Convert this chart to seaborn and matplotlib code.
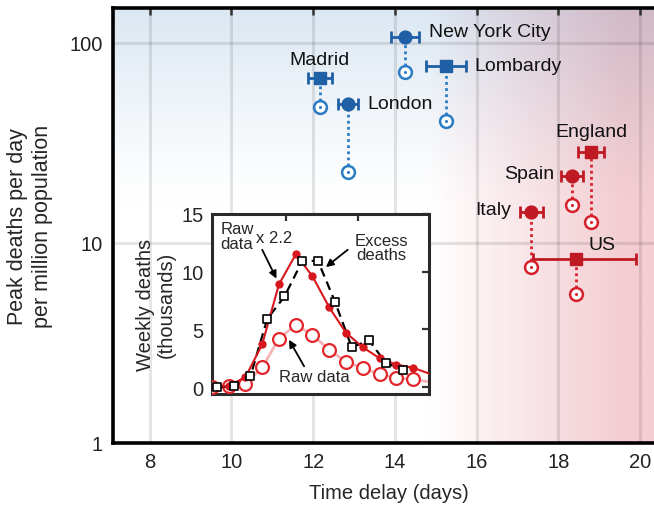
import numpy as np
import pandas as pd
import seaborn as sns
import matplotlib.pyplot as plt

sns.set_style("white")
plt.rcParams['font.family'] = ['Liberation Sans', 'DejaVu Sans']

# main panel: peak deaths vs time delay
places = ["Madrid", "London", "New York City", "Lombardy", "England", "Spain", "Italy", "US"]
group = ["blue", "blue", "blue", "blue", "red", "red", "red", "red"]
delay = [12.17, 12.85, 14.24, 15.24, 18.80, 18.34, 17.34, 18.44]
delay_lo = [0.29, 0.24, 0.34, 0.49, 0.32, 0.27, 0.27, 1.07]
delay_hi = [0.29, 0.24, 0.34, 0.49, 0.32, 0.27, 0.27, 1.46]
peak = [66.5, 49.5, 107.0, 76.7, 28.5, 21.6, 14.3, 8.3]
peak_raw = [47.9, 22.6, 71.6, 40.7, 12.7, 15.5, 7.6, 5.56]
shape = ["s", "o", "o", "s", "s", "o", "o", "s"]

# where the place names sit
label_x = [12.15, 13.32, 14.83, 15.95, 18.80, 17.90, 16.85, 18.73]
label_y = [83.0, 49.5, 113.5, 76.7, 35.9, 22.1, 14.6, 9.8]
label_ha = ["center", "left", "left", "left", "center", "right", "right", "left"]

# inset: weekly deaths (thousands)
weeks = [0, 1, 2, 3, 4, 5, 6, 7, 8, 9, 10, 11, 12, 13]
raw = [0.0, 0.05, 0.3, 1.7, 4.2, 5.4, 4.5, 3.25, 2.15, 1.67, 1.1, 0.8, 0.66, 0.45]
raw_x22 = [0.0, 0.1, 0.86, 3.7, 8.9, 11.5, 9.6, 6.9, 4.7, 3.45, 2.5, 1.95, 1.67, 1.15]
excess_weeks = [0.3, 1.3, 2.3, 3.3, 4.33, 5.38, 6.32, 7.34, 8.34, 9.37, 10.37, 11.37]
excess = [0.0, 0.05, 0.95, 5.9, 7.85, 10.9, 10.95, 7.4, 3.45, 4.05, 2.1, 1.5]

df = pd.DataFrame({"place": places, "group": group, "delay": delay,
                   "peak": peak, "peak_raw": peak_raw})
fill_col = {"blue": "#1f5fa6", "red": "#bf1a23"}
open_col = {"blue": "#2b7cc2", "red": "#d6212b"}

fig = plt.figure(figsize=(6.54, 5.1), dpi=100)
pos = [0.1725, 0.130, 0.844, 0.853]

# background gradient (blue from top, pink from right)
bg = fig.add_axes(pos, zorder=0)
bg.axis('off')
yf = np.linspace(0, 1, 400)[:, None]
xf = np.linspace(0, 1, 400)[None, :]
ylog = yf * np.log10(150)
xd = 7.1 + xf * 13.5
b = np.clip((ylog - np.log10(16)) / (np.log10(150) - np.log10(16)), 0, 1) ** 1.2
r = np.clip((xd - 14.8) / (19.6 - 14.8), 0, 1)
blue = np.array([219, 231, 242]) / 255
pink = np.array([243, 205, 210]) / 255
img = (1 - b[..., None] * (1 - blue)) * (1 - r[..., None] * (1 - pink))
bg.imshow(img, extent=[0, 1, 0, 1], origin='lower', aspect='auto')
bg.set_xlim(0, 1)
bg.set_ylim(0, 1)

ax = fig.add_axes(pos, zorder=1)
ax.set_facecolor('none')
ax.set_yscale('log')

for g in ["blue", "red"]:
    sub = df[df.group == g]
    ax.vlines(sub.delay, sub.peak_raw, sub.peak, colors=open_col[g],
              linestyles=(0, (1, 1.2)), lw=2, zorder=2)
    lo = [delay_lo[i] for i in sub.index]
    hi = [delay_hi[i] for i in sub.index]
    ax.errorbar(sub.delay, sub.peak, xerr=[lo, hi], fmt='none',
                ecolor=fill_col[g], elinewidth=2, capsize=4, capthick=2, zorder=3)
    sns.scatterplot(data=sub, x="delay", y="peak_raw", ax=ax, s=85,
                    facecolor="white", edgecolor=open_col[g], linewidth=1.8, zorder=4)
    sns.scatterplot(data=sub, x="delay", y="peak_raw", ax=ax, s=5,
                    color=open_col[g], linewidth=0, zorder=5)
    for i in sub.index:
        ax.scatter(delay[i], peak[i], s=85, marker=shape[i], color=fill_col[g],
                   edgecolor=fill_col[g], zorder=6)

for i, name in enumerate(places):
    ax.text(label_x[i], label_y[i], name, ha=label_ha[i], va="center",
            fontsize=14, color="#111111", zorder=7)

ax.set_xlim(7.1, 20.6)
ax.set_ylim(1, 150)
ax.set_xticks([8, 10, 12, 14, 16, 18, 20])
ax.set_yticks([1, 10, 100])
ax.set_yticklabels(["1", "10", "100"])
ax.grid(True, which='major', color='black', alpha=0.1, lw=2.2)
ax.tick_params(which='both', direction='in', top=True, right=True,
               labelsize=14.5, colors='#222222', pad=7)
ax.tick_params(which='major', length=5, width=1.8, color='#333333')
ax.tick_params(which='minor', length=3, width=1.2, color='#333333')
for s in ax.spines.values():
    s.set_linewidth(2.6)
    s.set_color('black')
ax.set_xlabel("Time delay (days)", fontsize=14.5, labelpad=8)
ax.set_ylabel("Peak deaths per day\nper million population", fontsize=15.5,
              labelpad=12, linespacing=1.25)

# inset
axi = fig.add_axes([0.324, 0.2255, 0.332, 0.353], zorder=3)
axi.set_facecolor('white')
sns.lineplot(x=weeks, y=raw, ax=axi, color="#f3b4b7", lw=2, zorder=2)
sns.scatterplot(x=weeks[:13], y=raw[:13], ax=axi, s=85, facecolor="white",
                edgecolor="#e3262c", linewidth=1.6, zorder=3)
sns.lineplot(x=excess_weeks, y=excess, ax=axi, color="black", lw=1.6,
             linestyle=(0, (4, 2.5)), zorder=4)
sns.lineplot(x=weeks, y=raw_x22, ax=axi, color="#d7191f", lw=1.5, zorder=5)
sns.scatterplot(x=weeks[:13], y=raw_x22[:13], ax=axi, s=36, color="#d7191f",
                linewidth=0, zorder=6)
sns.scatterplot(x=excess_weeks, y=excess, ax=axi, s=40, marker="s",
                facecolor="white", edgecolor="black", linewidth=1.2, zorder=7)

arrow = dict(arrowstyle='-|>', color='black', lw=1.3, mutation_scale=11,
             shrinkA=0, shrinkB=0)
axi.text(0.5, 13.1, "Raw\ndata", fontsize=12, ha="left", va="center",
         linespacing=0.95)
axi.text(2.65, 12.95, "x 2.2", fontsize=12, ha="left", va="center")
axi.annotate("", xy=(3.85, 9.4), xytext=(3.0, 11.9), arrowprops=arrow)
axi.text(10.1, 12.1, "Excess\ndeaths", fontsize=12, ha="center", va="center",
         linespacing=0.95)
axi.annotate("", xy=(6.8, 10.4), xytext=(8.1, 11.9), arrowprops=arrow)
axi.text(4.0, 0.95, "Raw data", fontsize=12, ha="left", va="center")
axi.annotate("", xy=(4.6, 4.1), xytext=(5.5, 1.8), arrowprops=arrow)

axi.set_xlim(0, 12.95)
axi.set_ylim(-0.6, 15.0)
axi.set_xticks([4.39, 8.7])
axi.set_xticklabels([])
axi.set_yticks([0, 5, 10, 15])
axi.tick_params(direction='in', top=True, right=True, length=5, width=1.6,
                color='#333333', labelsize=14.5, pad=6)
for s in axi.spines.values():
    s.set_linewidth(2.2)
    s.set_color('#2a2a2a')
axi.set_ylabel("Weekly deaths\n(thousands)", fontsize=14.5, labelpad=4,
               linespacing=1.1)

fig.savefig("out.png", dpi=100)
